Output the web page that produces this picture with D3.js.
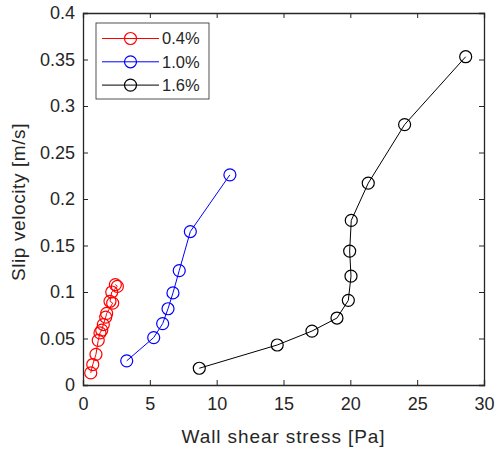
<!DOCTYPE html>
<html>
<head>
<meta charset="utf-8">
<script src="https://cdn.jsdelivr.net/npm/d3@7"></script>
<style>
  body { margin: 0; background: #fff; }
  svg { font-family: "Liberation Sans", Arial, sans-serif; }
</style>
</head>
<body>
<div id="chart"></div>
<script>
// data
const seriesNames = ["0.4%", "1.0%", "1.6%"];
const seriesColors = ["#ff0000", "#0000ff", "#000000"];

const stress04 = [0.58, 0.73, 0.97, 1.14, 1.27, 1.40, 1.52, 1.70, 1.77, 2.22, 2.02, 2.15, 2.57, 2.42];
const slip04   = [0.013, 0.022, 0.033, 0.048, 0.056, 0.059, 0.065, 0.073, 0.077, 0.088, 0.090, 0.100, 0.106, 0.108];

const stress10 = [3.27, 5.29, 5.96, 6.36, 6.73, 7.20, 8.03, 10.99];
const slip10   = [0.026, 0.051, 0.066, 0.082, 0.099, 0.123, 0.165, 0.226];

const stress16 = [8.70, 14.53, 17.13, 19.0, 19.85, 20.05, 19.95, 20.07, 21.34, 24.06, 28.63];
const slip16   = [0.018, 0.043, 0.058, 0.072, 0.091, 0.117, 0.144, 0.177, 0.217, 0.280, 0.353];

const xTicks = [0, 5, 10, 15, 20, 25, 30];
const yTicks = [0, 0.05, 0.1, 0.15, 0.2, 0.25, 0.3, 0.35, 0.4];

(function() {
    const margin = {top: 13, right: 12, bottom: 65, left: 83};
    const W = 496, H = 450;
    const width = W - margin.left - margin.right;
    const height = H - margin.top - margin.bottom;
    const axisColor = "#262626";

    const svg = d3.select("#chart")
        .append("svg")
        .attr("width", W)
        .attr("height", H);

    const g = svg.append("g")
        .attr("transform", `translate(${margin.left},${margin.top})`);

    const x = d3.scaleLinear().domain([0, 30]).range([0, width]);
    const y = d3.scaleLinear().domain([0, 0.4]).range([height, 0]);

    // series
    const series = [
        {xs: stress04, ys: slip04},
        {xs: stress10, ys: slip10},
        {xs: stress16, ys: slip16}
    ].map((s, i) => ({
        name: seriesNames[i],
        color: seriesColors[i],
        points: s.xs.map((v, j) => ({x: v, y: s.ys[j]}))
    }));

    const line = d3.line().x(d => x(d.x)).y(d => y(d.y));

    series.forEach(s => {
        g.append("path")
            .datum(s.points)
            .attr("fill", "none")
            .attr("stroke", s.color)
            .attr("stroke-width", 1)
            .attr("d", line);

        g.selectAll(null)
            .data(s.points)
            .enter()
            .append("circle")
            .attr("cx", d => x(d.x))
            .attr("cy", d => y(d.y))
            .attr("r", 6)
            .attr("fill", "none")
            .attr("stroke", s.color)
            .attr("stroke-width", 1.2);
    });

    // axes, MATLAB-style box with inward ticks
    const tickLen = 5;
    const bottom = g.append("g")
        .attr("transform", `translate(0,${height})`)
        .call(d3.axisBottom(x).tickValues(xTicks).tickSize(-tickLen).tickPadding(12).tickFormat(d3.format("d")));
    const left = g.append("g")
        .call(d3.axisLeft(y).tickValues(yTicks).tickSize(-tickLen).tickPadding(8).tickFormat(d => d === 0 ? "0" : d3.format("")(+d.toFixed(2))));
    const top = g.append("g")
        .call(d3.axisTop(x).tickValues(xTicks).tickSize(-tickLen).tickFormat(""));
    const right = g.append("g")
        .attr("transform", `translate(${width},0)`)
        .call(d3.axisRight(y).tickValues(yTicks).tickSize(-tickLen).tickFormat(""));

    [bottom, left, top, right].forEach(a => {
        a.select(".domain").attr("stroke", axisColor).attr("stroke-width", 1.3);
        a.selectAll(".tick line").attr("stroke", axisColor);
        a.selectAll("text")
            .attr("fill", axisColor)
            .style("font-size", "18px")
            .style("font-family", "'Liberation Sans', Arial, sans-serif");
    });
    bottom.selectAll("text").attr("dy", "0.71em");

    // axis labels
    svg.append("text")
        .attr("x", margin.left + width / 2)
        .attr("y", 443)
        .attr("text-anchor", "middle")
        .attr("fill", axisColor)
        .style("font-size", "19px")
        .style("letter-spacing", "0.9px")
        .text("Wall shear stress [Pa]");

    svg.append("text")
        .attr("transform", `translate(25,${margin.top + height / 2 + 3}) rotate(-90)`)
        .attr("text-anchor", "middle")
        .attr("fill", axisColor)
        .style("font-size", "19px")
        .style("letter-spacing", "0.6px")
        .text("Slip velocity [m/s]");

    // legend
    const legend = svg.append("g").attr("transform", "translate(96,23)");
    legend.append("rect")
        .attr("width", 113)
        .attr("height", 76)
        .attr("fill", "#fff")
        .attr("stroke", axisColor)
        .attr("stroke-width", 0.8);

    series.forEach((s, i) => {
        const row = legend.append("g").attr("transform", `translate(0,${15.5 + i * 23.3})`);
        row.append("line")
            .attr("x1", 6).attr("x2", 63)
            .attr("stroke", s.color).attr("stroke-width", 1);
        row.append("circle")
            .attr("cx", 34.5).attr("r", 6)
            .attr("fill", "none").attr("stroke", s.color).attr("stroke-width", 1.2);
        row.append("text")
            .attr("x", 66).attr("dy", "0.36em")
            .attr("fill", axisColor)
            .style("font-size", "16.5px")
            .text(s.name);
    });
})();
</script>
</body>
</html>
